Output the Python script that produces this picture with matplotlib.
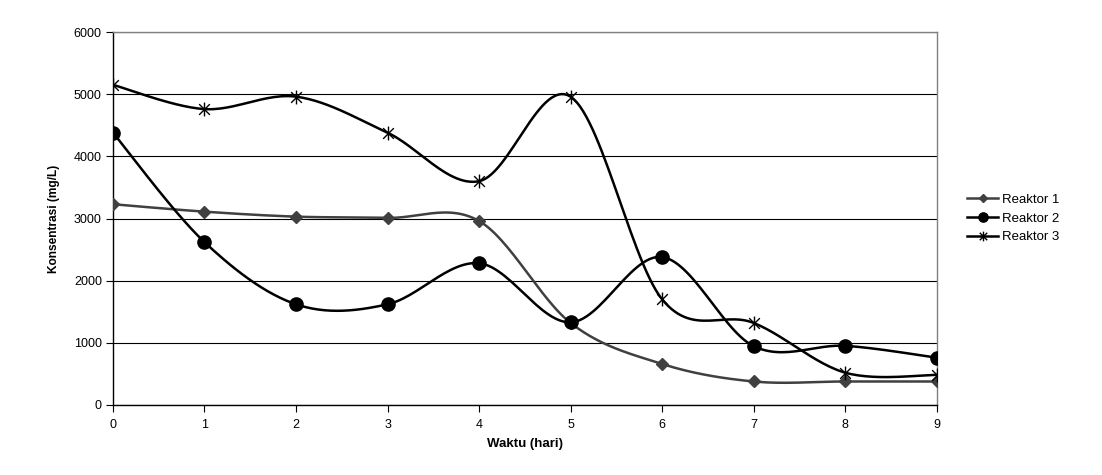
import matplotlib
matplotlib.use('Agg')
import matplotlib.pyplot as plt
from matplotlib.path import Path
import numpy as np

plt.rcParams['font.family'] = ['Liberation Sans', 'DejaVu Sans']

# data
days = [0, 1, 2, 3, 4, 5, 6, 7, 8, 9]
reaktor1 = [3230, 3110, 3030, 3010, 2960, 1320, 660, 378, 378, 378]
reaktor2 = [4380, 2620, 1620, 1620, 2280, 1330, 2380, 947, 952, 761]
reaktor3 = [5150, 4760, 4960, 4380, 3600, 4960, 1700, 1320, 520, 484]
labels = ['Reaktor 1', 'Reaktor 2', 'Reaktor 3']


def smooth(x, y, n=30):
    # Excel-style smoothed line: cubic bezier through the points
    x = np.asarray(x, float)
    y = np.asarray(y, float)
    pts = np.column_stack([x, y])
    out = [pts[0]]
    t = np.linspace(0, 1, n)[1:, None]
    for i in range(len(pts) - 1):
        p0 = pts[i - 1] if i > 0 else pts[i]
        p1, p2 = pts[i], pts[i + 1]
        p3 = pts[i + 2] if i + 2 < len(pts) else pts[i + 1]
        c1 = p1 + (p2 - p0) / 6
        c2 = p2 - (p3 - p1) / 6
        seg = ((1 - t) ** 3 * p1 + 3 * (1 - t) ** 2 * t * c1
               + 3 * (1 - t) * t ** 2 * c2 + t ** 3 * p2)
        out.extend(seg)
    out = np.array(out)
    return out[:, 0], out[:, 1]


# asterisk marker like Excel's star
star = Path([(-1, -1), (1, 1), (-1, 1), (1, -1), (0, -1.3), (0, 1.3)],
            [Path.MOVETO, Path.LINETO, Path.MOVETO, Path.LINETO, Path.MOVETO, Path.LINETO])

fig = plt.figure(figsize=(11.02, 4.75), dpi=100)
ax = fig.add_axes([0.1025, 0.1474, 0.7475, 0.7852])

styles = [
    dict(color='#404040', marker='D', ms=6, mfc='#404040', mec='#404040'),
    dict(color='black', marker='o', ms=9.5, mfc='black', mec='black'),
    dict(color='black', marker=star, ms=10, mfc='none', mec='black', mew=1.0),
]

for yv, lab, st in zip([reaktor1, reaktor2, reaktor3], labels, styles):
    sx, sy = smooth(days, yv)
    ax.plot(sx, sy, color=st['color'], lw=1.8, zorder=3)
    ax.plot(days, yv, linestyle='none', marker=st['marker'], ms=st['ms'],
            mfc=st['mfc'], mec=st['mec'], mew=st.get('mew', 1), zorder=4)
    # legend proxy
    ax.plot([], [], color=st['color'], lw=1.8, marker=st['marker'],
            ms=st['ms'] * 0.7, mfc=st['mfc'], mec=st['mec'], mew=st.get('mew', 1),
            label=lab)

ax.set_xlim(0, 9)
ax.set_ylim(0, 6000)
ax.set_xticks(days)
ax.set_yticks(range(0, 6001, 1000))
ax.yaxis.grid(True, color='black', lw=0.8)
ax.set_axisbelow(True)
ax.tick_params(axis='both', direction='out', length=5, width=0.8,
               labelsize=9, colors='black', pad=3)
ax.tick_params(axis='x', pad=5)
for s in ['left', 'bottom']:
    ax.spines[s].set_color('black')
    ax.spines[s].set_linewidth(1)
for s in ['top', 'right']:
    ax.spines[s].set_color('#808080')
    ax.spines[s].set_linewidth(1)

ax.set_xlabel('Waktu (hari)', fontsize=9.5, fontweight='bold', labelpad=5)
ax.set_ylabel('Konsentrasi (mg/L)', fontsize=8.6, fontweight='bold', labelpad=10)

ax.legend(loc='center left', bbox_to_anchor=(1.0364, 0.5), frameon=False,
          fontsize=9.5, handlelength=2.4, handletextpad=0.3, labelspacing=0.5,
          borderpad=0, borderaxespad=0)

fig.savefig('out.png', dpi=100, facecolor='white')
